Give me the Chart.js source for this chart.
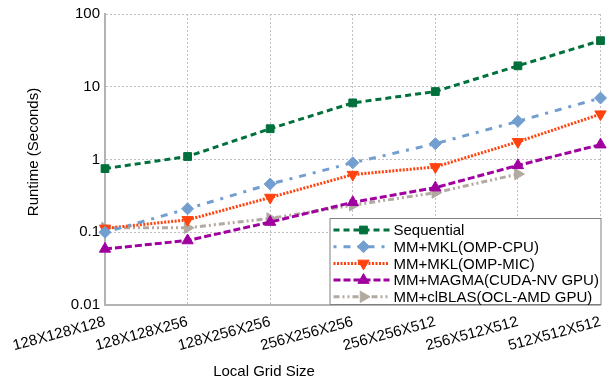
<!DOCTYPE html>
<html>
<head>
<meta charset="utf-8">
<script src="https://cdn.jsdelivr.net/npm/chart.js@4/dist/chart.umd.min.js"></script>
<style>
  html, body { margin: 0; padding: 0; background: #fff; }
  #wrap { width: 608px; height: 383px; }
</style>
</head>
<body>
<div id="wrap"><canvas id="myChart"></canvas></div>
<script>
var gridSizes = ["128X128X128", "128X128X256", "128X256X256", "256X256X256", "256X256X512", "256X512X512", "512X512X512"];
var sequential = [0.75, 1.1, 2.65, 6.0, 8.6, 19.4, 43];
var mklCpu = [0.1, 0.21, 0.46, 0.9, 1.65, 3.35, 7.0];
var mklMic = [0.113, 0.148, 0.3, 0.62, 0.79, 1.75, 4.2];
var magma = [0.059, 0.077, 0.138, 0.258, 0.41, 0.83, 1.6];
var clblas = [0.115, 0.115, 0.155, 0.235, 0.35, 0.63, null];
var yTicks = [0.01, 0.1, 1, 10, 100];

var font = "'Liberation Sans', Arial, sans-serif";

// legend drawn inside the plot area, bottom right + axis titles
var boxLegend = {
    id: 'boxLegend',
    afterDraw: function(chart) {
        var ctx = chart.ctx;
        var area = chart.chartArea;
        var xs = chart.scales.x;
        var w = 272, h = 87;
        var x0 = xs.getPixelForValue(gridSizes.length - 1) - w + 1, y0 = area.bottom - h;
        ctx.save();
        ctx.fillStyle = "#fff";
        ctx.fillRect(x0, y0, w, h);
        ctx.strokeStyle = "#808080";
        ctx.lineWidth = 1;
        ctx.strokeRect(x0 + 0.5, y0 + 0.5, w - 1, h - 1);
        chart.data.datasets.forEach(function(ds, i) {
            var y = y0 + 12 + i * 16.7;
            ctx.strokeStyle = ds.borderColor;
            ctx.lineWidth = 3;
            ctx.setLineDash(ds.borderDash);
            ctx.beginPath();
            ctx.moveTo(x0 + 4, y);
            ctx.lineTo(x0 + 60, y);
            ctx.stroke();
            ctx.setLineDash([]);
            ctx.fillStyle = ds.borderColor;
            ctx.lineWidth = 1;
            Chart.helpers.drawPoint(ctx, {
                pointStyle: ds.pointStyle,
                radius: ds.pointRadius,
                rotation: ds.pointRotation || 0,
                borderWidth: 1
            }, x0 + 34, y);
            ctx.fillStyle = "#000";
            ctx.font = "15px " + font;
            ctx.textBaseline = "middle";
            ctx.fillText(ds.label, x0 + 64, y + 1);
        });

        ctx.fillStyle = "#000";
        ctx.font = "15px " + font;
        ctx.textAlign = "center";
        ctx.textBaseline = "middle";
        ctx.fillText("Local Grid Size", area.left + 159, chart.height - 11);

        ctx.translate(34, 152);
        ctx.rotate(-Math.PI / 2);
        ctx.fillText("Runtime (Seconds)", 0, 0);
        ctx.restore();
    }
};

function series(label, data, color, dash, style, rot, r) {
    return {
        label: label,
        data: data,
        borderColor: color,
        backgroundColor: color,
        pointBackgroundColor: color,
        pointBorderColor: color,
        borderWidth: 3,
        borderDash: dash,
        pointStyle: style,
        pointRotation: rot,
        pointRadius: r,
        pointBorderWidth: 1,
        tension: 0,
        spanGaps: false
    };
}

var ctx = document.getElementById("myChart");
var chart = new Chart(ctx, {
    type: 'line',
    data: {
        labels: gridSizes,
        datasets: [
            series("Sequential", sequential, "#00703c", [6, 4], 'rect', 0, 5.5),
            series("MM+MKL(OMP-CPU)", mklCpu, "#729fcf", [3, 7, 7, 7], 'rectRot', 0, 6),
            series("MM+MKL(OMP-MIC)", mklMic, "#ff420e", [2, 1.5], 'triangle', 180, 6.5),
            series("MM+MAGMA(CUDA-NV GPU)", magma, "#a0009f", [7, 3], 'triangle', 0, 6.5),
            series("MM+clBLAS(OCL-AMD GPU)", clblas, "#b2aaa0", [6, 3, 2, 3, 2, 3], 'triangle', 90, 6.5)
        ]
    },
    options: {
        responsive: true,
        maintainAspectRatio: false,
        animation: false,
        layout: { padding: { top: 13, right: 1, left: 26, bottom: 0 } },
        plugins: {
            legend: { display: false },
            tooltip: { enabled: false }
        },
        scales: {
            x: {
                offset: false,
                afterFit: function(s) {
                    s.height = 78;
                    s.paddingRight = 0;
                    s.paddingLeft = 0;
                    if (s._margins) { s._margins.right = 3; s._margins.left = 0; }
                },
                grid: {
                    color: "#c0c0c0",
                    lineWidth: 1,
                    drawTicks: false
                },
                border: { color: "#b3b3b3", width: 2, dash: [2, 2] },
                ticks: {
                    color: "#000",
                    font: { family: font, size: 15 },
                    minRotation: 15,
                    maxRotation: 15,
                    padding: 8,
                    autoSkip: false
                }
            },
            y: {
                type: 'logarithmic',
                min: 0.01,
                max: 100,
                afterFit: function(s) { s.width = 79; },
                afterBuildTicks: function(s) {
                    s.ticks = yTicks.map(function(v) { return { value: v }; });
                },
                grid: {
                    color: "#c0c0c0",
                    lineWidth: 1,
                    drawTicks: false
                },
                border: { color: "#b3b3b3", width: 2, dash: [2, 2] },
                ticks: {
                    color: "#000",
                    font: { family: font, size: 15 },
                    padding: 5,
                    callback: function(v) { return String(v); }
                }
            }
        }
    },
    plugins: [boxLegend]
});
</script>
</body>
</html>
